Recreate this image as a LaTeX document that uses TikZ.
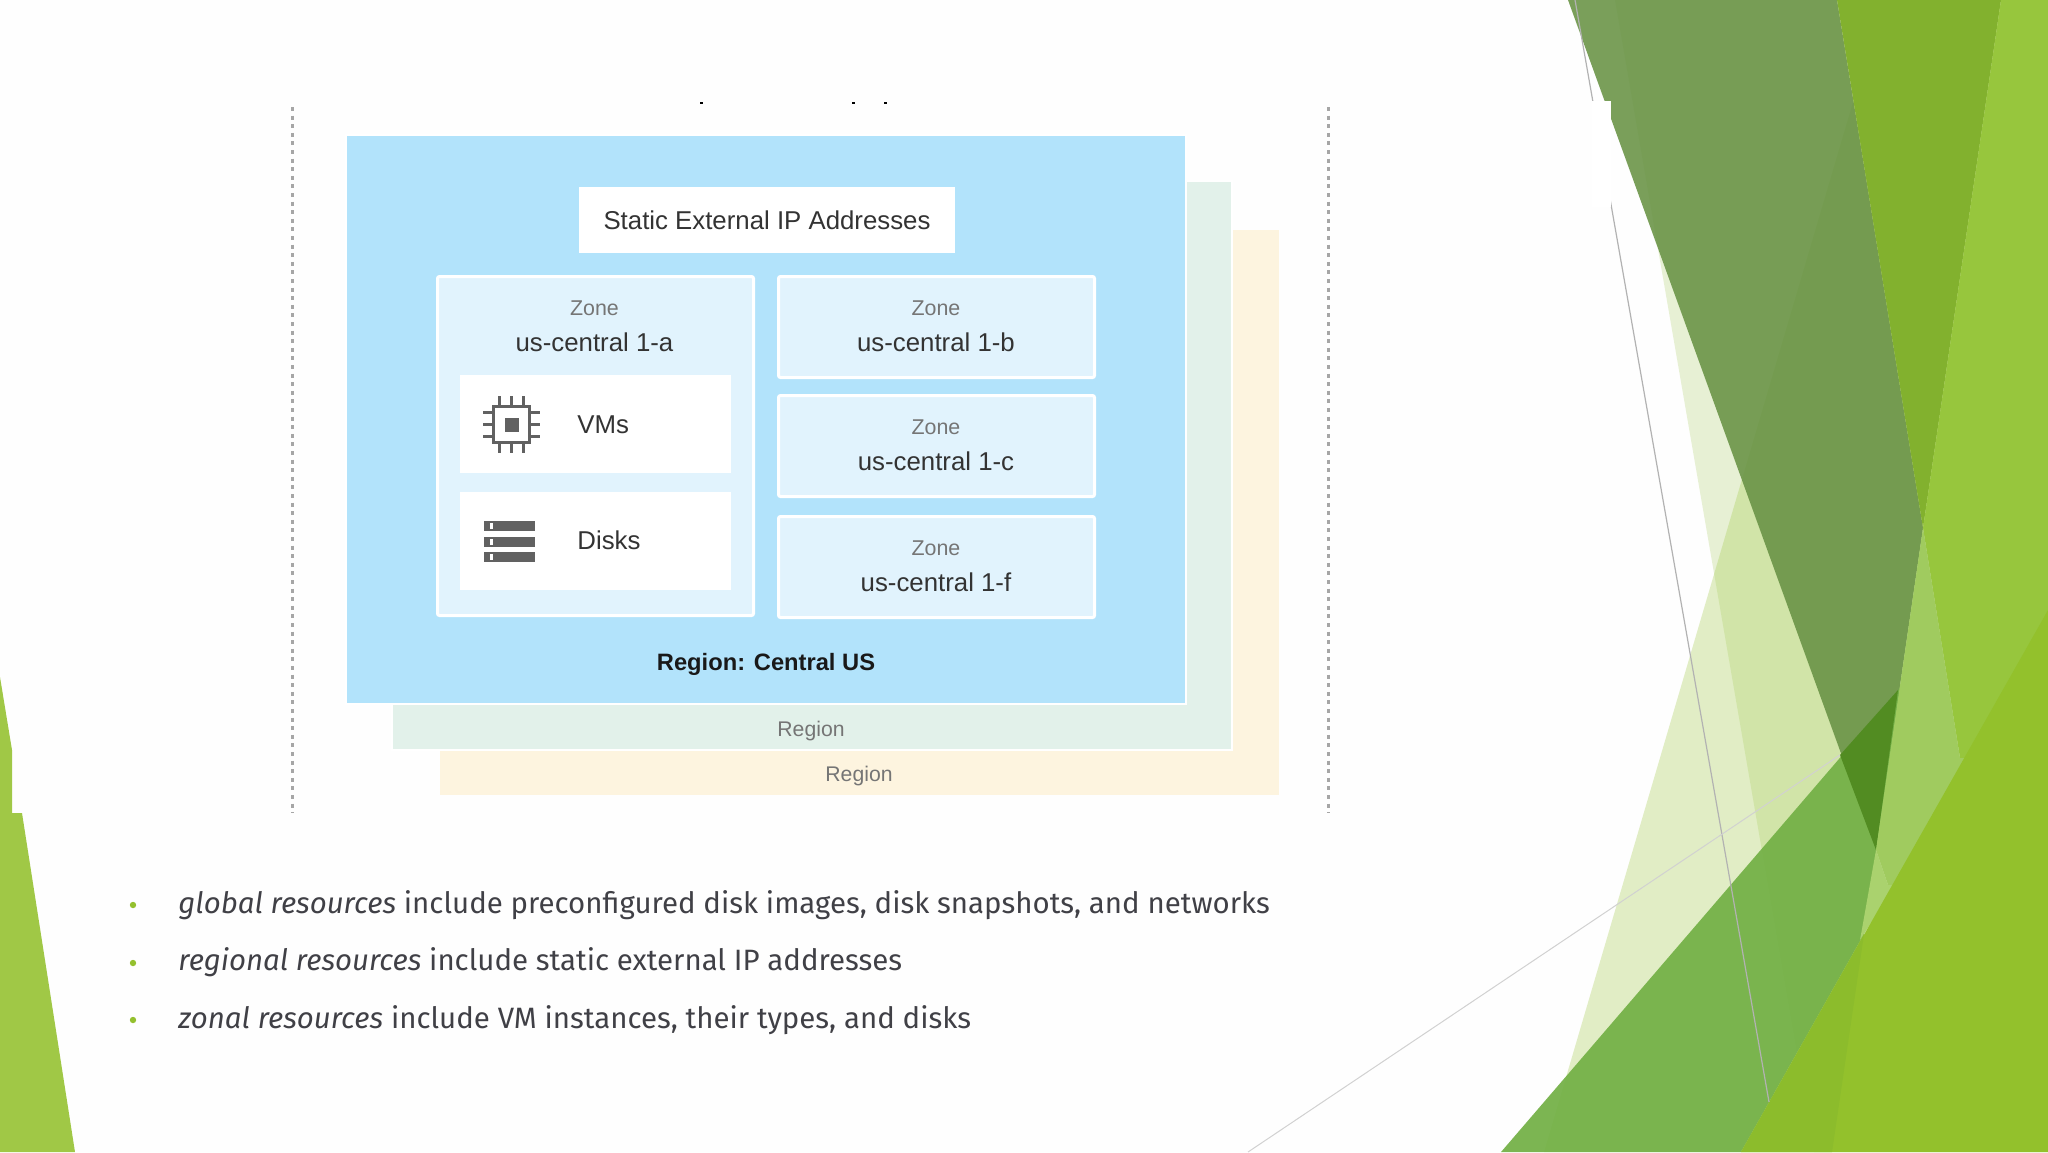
\documentclass[tikz,border=0pt]{standalone}
\usepackage{fontspec}
\setmainfont{Fira Sans}
\newfontfamily\figfont{Liberation Sans}
\definecolor{pagewhite}{HTML}{FEFEFE}
\definecolor{regionblue}{HTML}{B2E3FB}
\definecolor{regiongreen}{HTML}{E2F1EA}
\definecolor{regionyellow}{HTML}{FDF4DF}
\definecolor{zoneblue}{HTML}{E1F3FD}
\definecolor{icongray}{HTML}{616161}
\definecolor{zonegray}{HTML}{757575}
\definecolor{bodygray}{HTML}{404046}
\definecolor{leafgreen}{HTML}{A0C846}
\definecolor{paleone}{RGB}{163,200,87}
\definecolor{paletwo}{RGB}{166,204,81}
\definecolor{greydark}{RGB}{104,146,68}
\definecolor{midgreen}{RGB}{115,176,70}
\definecolor{deepgreen}{HTML}{528C22}
\definecolor{bandgreen}{HTML}{82B12E}
\definecolor{topgreen}{HTML}{97C63D}
\definecolor{wedgeone}{HTML}{A0CB5F}
\definecolor{wedgetwo}{HTML}{AAD26E}
\definecolor{lowgreen}{HTML}{93C12C}
\definecolor{lowgreentwo}{HTML}{8CBC2C}
\definecolor{dotgreen}{HTML}{94C02E}
\tikzset{
  regionbox/.style={draw=white,line width=1pt,outer sep=0pt,anchor=north west,inner sep=0pt,minimum width=420pt,minimum height=284.5pt},
  zonebox/.style={draw=white,fill=zoneblue,line width=1.5pt,rounded corners=1pt,outer sep=0pt,anchor=north west,inner sep=0pt,minimum width=158pt,minimum height=50.5pt},
  partbox/.style={fill=white,outer sep=0pt,anchor=north west,inner sep=0pt,minimum width=135.5pt,minimum height=49pt},
  zonetext/.style={font=\figfont\fontsize{12.9}{17}\selectfont,text=black!80,align=center},
  regiontext/.style={font=\figfont\fontsize{10.6}{13}\selectfont,text=zonegray},
  bullettext/.style={font=\fontsize{14.71}{17}\selectfont,text=bodygray,anchor=west,inner sep=0pt},
  limitline/.style={black!35,line width=1.7pt,dash pattern=on 2pt off 2.3pt}
}
\newcommand{\zonelabel}[1]{{\fontsize{10.7}{17}\selectfont\color{zonegray}Zone}\\[0.65pt]#1}
\begin{document}
\begin{tikzpicture}[x=0.5pt,y=-0.5pt]
\useasboundingbox (0,0) rectangle (2048,1152);
\fill[pagewhite] (0,0) rectangle (2048,1152);

% left corner
\fill[leafgreen] (0,677) -- (12,750) -- (12,813) -- (22,813) -- (75,1152) -- (0,1152) -- cycle;

% right corner
\fill[paleone,fill opacity=0.25] (1615,0) -- (1814,1152) -- (2048,1152) -- (2048,0) -- cycle;
\fill[paletwo,fill opacity=0.33] (1883,0) -- (1544,1152) -- (2048,1152) -- (2048,0) -- cycle;
\fill[greydark,fill opacity=0.88] (1568,0) -- (1876,850) -- (1923,528) -- (1837,0) -- cycle;
\fill[midgreen,fill opacity=0.93] (1501,1152) -- (1900,688) -- (1864,934) -- (1741,1152) -- cycle;
\fill[deepgreen] (1840,755) -- (1898,690) -- (1876,850) -- cycle;
\fill[bandgreen] (1837,0) -- (2001,0) -- (1923,528) -- cycle;
\fill[topgreen] (2001,0) -- (2048,0) -- (2048,620) -- (1975,770) -- (1960,758) -- (1923,528) -- cycle;
\fill[wedgeone] (1923,528) -- (1960,758) -- (1975,758) -- (1900,890) -- (1888,885) -- (1876,850) -- cycle;
\fill[wedgetwo] (1876,850) -- (1888,885) -- (1895,885) -- (1860,940) -- cycle;
\fill[lowgreen] (1741,1152) -- (2048,610) -- (2048,1152) -- cycle;
\fill[lowgreentwo] (1741,1152) -- (1864,934) -- (1832,1152) -- cycle;

% thin lines
\draw[black!30,line width=0.6pt] (1575,0) -- (1769,1102);
\draw[black!18,line width=0.5pt] (1248,1152) -- (1840,755);
\fill[white] (1592,101) rectangle (1611,207);

% dotted limits
\draw[limitline] (292.5,107) -- (292.5,813);
\draw[limitline] (1328.5,107) -- (1328.5,813);

% what is left of the clipped title
\foreach \speck in {701,853,885}
  \fill[black] (\speck-1.5,102) rectangle (\speck+1.5,104);

% regions
\node[regionbox,draw=none,fill=regionyellow,minimum width=419.5pt,minimum height=282.5pt] (regionthree) at (440,230) {};
\node[regionbox,fill=regiongreen] (regiontwo) at (392,181) {};
\node[regionbox,fill=regionblue] (regionone) at (345.5,135) {};

\node[fill=white,outer sep=0pt,anchor=north west,inner sep=0pt,minimum width=188pt,minimum height=33pt,font=\figfont\fontsize{12.9}{15}\selectfont,text=black!80] (staticip) at (579,187) {Static External IP Addresses};

% zones
\node[zonebox,minimum height=169.5pt] (zonea) at (437.5,276.5) {};
\node[zonebox] (zoneb) at (778.5,276.5) {};
\node[zonebox] (zonec) at (778.5,395.5) {};
\node[zonebox] (zonef) at (778.5,516.5) {};
\node[zonetext] (labela) at (594.5,326.3) {\zonelabel{us-central 1-a}};
\node[zonetext] (labelb) at (936,326.3) {\zonelabel{us-central 1-b}};
\node[zonetext] (labelc) at (936,445.3) {\zonelabel{us-central 1-c}};
\node[zonetext] (labelf) at (936,566.3) {\zonelabel{us-central 1-f}};

\node[partbox] (vmbox) at (460,375) {};
\node[partbox] (diskbox) at (460,492) {};
\node[zonetext,anchor=west,inner sep=0pt] (vmlabel) at (577,425) {VMs};
\node[zonetext,anchor=west,inner sep=0pt] (disklabel) at (577,540) {Disks};

% chip icon
\foreach \pin in {-12,0,12} {
  \draw[icongray,line width=1.7pt] (511.5+\pin,396) -- (511.5+\pin,453);
  \draw[icongray,line width=1.7pt] (483,424.5+\pin) -- (540,424.5+\pin);
}
\draw[icongray,fill=white,line width=1.9pt] (493.5,406.5) rectangle (529.5,442.5);
\fill[icongray] (504.5,417.5) rectangle (518.5,431.5);

% disk icon
\foreach \row in {521,537,552} {
  \fill[icongray] (484,\row) rectangle (535,\row+10);
  \fill[white] (490,\row+2) rectangle (493,\row+8);
}

\node[font=\figfont\bfseries\fontsize{11.85}{15}\selectfont,text=black!90] (regionmain) at (766,664) {Region: Central US};
\node[regiontext] (regionlabeltwo) at (811,731) {Region};
\node[regiontext] (regionlabelthree) at (859,776) {Region};

% bullets
\foreach \row in {905,963,1020}
  \fill[dotgreen] (133,\row) circle (1.6pt);
\node[bullettext] (globalline) at (178,905) {\textit{global resources} include preconfigured disk images, disk snapshots, and networks};
\node[bullettext] (regionalline) at (178,962) {\textit{regional resources} include static external IP addresses};
\node[bullettext] (zonalline) at (178,1020) {\textit{zonal resources} include VM instances, their types, and disks};
\end{tikzpicture}
\end{document}
